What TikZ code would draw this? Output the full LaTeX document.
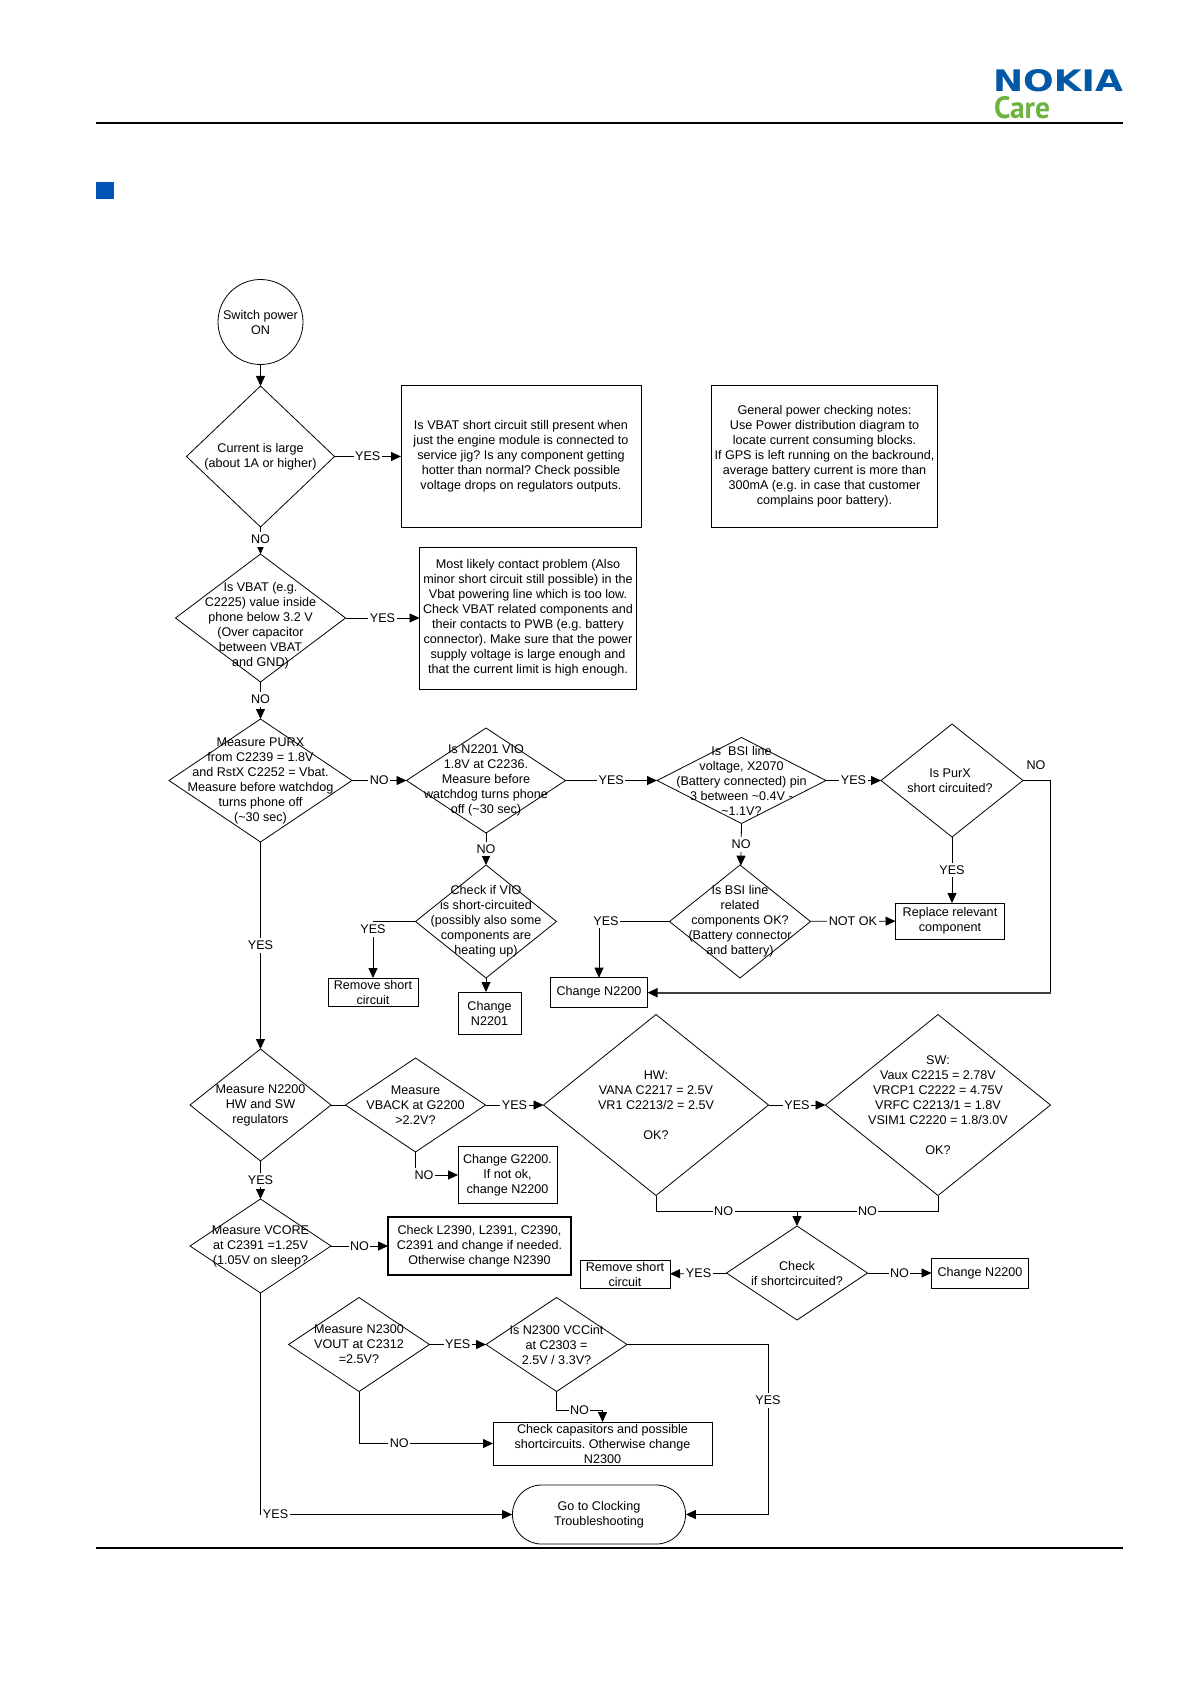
\documentclass[tikz,border=0pt]{standalone}
\usepackage{fontspec}
\setmainfont{Liberation Sans}
\newfontfamily\carefont{PT Sans}
\newfontfamily\nokiafont{DejaVu Sans}
\usepackage{xcolor}
\usetikzlibrary{shapes.geometric,positioning,calc,arrows.meta}
\definecolor{nokiablue}{HTML}{0058A6}
\definecolor{bulletblue}{HTML}{0054B4}
\definecolor{caregreen}{HTML}{6CB33F}
\tikzset{
    flowtxt/.style={align=center, inner sep=0pt, font=\fontsize{12.6}{15}\selectfont\frenchspacing},
    dia/.style={draw, diamond, inner sep=0pt, outer sep=0pt, line width=0.8pt},
    box/.style={draw, rectangle, flowtxt, outer sep=0pt, line width=0.9pt},
    lab/.style={flowtxt, fill=white, inner xsep=1.5pt, inner ysep=3pt},
    link/.style={line width=0.8pt},
    arr/.style={link, -{Triangle[length=10pt,width=9pt,color=black]}}
}

\begin{document}
\begin{tikzpicture}[x=1pt, y=-1pt]
    \useasboundingbox (0, 0) rectangle (1191, 1684);

    % page furniture
    \node[inner sep=0pt, text=nokiablue, font=\nokiafont\bfseries] (nokia) at (1058, 80.5) {\resizebox{130pt}{22pt}{NOKIA}};
    \node[inner sep=0pt, text=caregreen, font=\carefont\bfseries] (care) at (1022, 107.5) {\resizebox{56pt}{22pt}{Care}};
    \coordinate (headL) at (96, 123);
    \coordinate (headR) at (1123, 123);
    \coordinate (footL) at (96, 1548);
    \coordinate (footR) at (1123, 1548);
    \draw[line width=2pt] (headL) -- (headR);
    \draw[line width=2pt] (footL) -- (footR);
    \node[fill=bulletblue, inner sep=0pt, minimum width=18pt, minimum height=17pt] (bullet) at (105, 190.5) {};

    % first column
    \node[draw, circle, flowtxt, line width=0.8pt, minimum size=85pt] (start) at (260.5, 322) {Switch power\\ON};

    \node[dia, minimum width=148pt, minimum height=141pt] (current) at (260.5, 456.5) {};
    \node[flowtxt] (currentT) at (current) {Current is large\\(about 1A or higher)};
    \node[box, minimum width=240pt, minimum height=142pt] (vbatshort) at (521, 456) {Is VBAT short circuit still present when\\just the engine module is connected to\\service jig? Is any component getting\\hotter than normal? Check possible\\voltage drops on regulators outputs.};
    \node[box, minimum width=226pt, minimum height=142pt] (notes) at (824.5, 456) {General power checking notes:\\Use Power distribution diagram to\\locate current consuming blocks.\\If GPS is left running on the backround,\\average battery current is more than\\300mA (e.g. in case that customer\\complains poor battery).};

    \node[dia, minimum width=170pt, minimum height=128pt] (vbat) at (260.5, 618) {};
    \node[flowtxt] (vbatT) at (260.5, 625.5) {Is VBAT (e.g.\\C2225) value inside\\phone below 3.2 V\\(Over capacitor\\between VBAT\\and GND)};
    \node[box, minimum width=217pt, minimum height=142pt] (contact) at (528, 618) {Most likely contact problem (Also\\minor short circuit still possible) in the\\Vbat powering line which is too low.\\Check VBAT related components and\\their contacts to PWB (e.g. battery\\connector). Make sure that the power\\supply voltage is large enough and\\that the current limit is high enough.};

    \node[dia, minimum width=183pt, minimum height=123pt] (purx) at (260.5, 780.5) {};
    \node[flowtxt] (purxT) at (purx) {Measure PURX\\from C2239 = 1.8V\\and RstX C2252 = Vbat.\\Measure before watchdog\\turns phone off\\(\textasciitilde30 sec)};
    \node[dia, minimum width=159pt, minimum height=105pt] (vio) at (486, 780.5) {};
    \node[flowtxt] (vioT) at (vio) {Is N2201 VIO\\1.8V at C2236.\\Measure before\\watchdog turns phone\\off (\textasciitilde30 sec)};
    \node[dia, minimum width=169pt, minimum height=86pt] (bsi) at (741.5, 780.5) {};
    \node[flowtxt] (bsiT) at (bsi) {Is\ \ BSI line\\voltage, X2070\\(Battery connected) pin\\3 between \textasciitilde0.4V -\\\textasciitilde1.1V?};
    \node[dia, minimum width=142pt, minimum height=113pt] (purxsc) at (952, 780.5) {};
    \node[flowtxt] (purxscT) at (950, 780.5) {Is PurX\\short circuited?};

    \node[dia, minimum width=141pt, minimum height=113pt] (viosc) at (486, 921.5) {};
    \node[flowtxt] (vioscT) at (viosc) {Check if VIO\\is short-circuited\\(possibly also some\\components are\\heating up)};
    \node[dia, minimum width=141pt, minimum height=113pt] (bsiok) at (740, 921.5) {};
    \node[flowtxt] (bsiokT) at (bsiok) {Is BSI line\\related\\components OK?\\(Battery connector\\and battery)};
    \node[box, minimum width=109pt, minimum height=36pt] (replace) at (950, 921) {Replace relevant\\component};
    \node[box, minimum width=90pt, minimum height=28pt] (rmshortA) at (373, 992) {Remove short\\circuit};
    \node[box, minimum width=63pt, minimum height=42pt] (chgvio) at (489.5, 1013) {Change\\N2201};
    \node[box, minimum width=97pt, minimum height=30pt] (chgA) at (599, 992.7) {Change N2200};

    % regulators row
    \node[dia, minimum width=141pt, minimum height=112pt] (reg) at (260.5, 1105) {};
    \node[flowtxt] (regT) at (reg) {Measure N2200\\HW and SW\\regulators};
    \node[dia, minimum width=140pt, minimum height=94pt] (vback) at (415.5, 1105) {};
    \node[flowtxt] (vbackT) at (vback) {Measure\\VBACK at G2200\\>2.2V?};
    \node[box, minimum width=99pt, minimum height=57pt] (chgbat) at (507.5, 1175) {Change G2200.\\If not ok,\\change N2200};
    \node[dia, minimum width=225pt, minimum height=181pt] (hw) at (656, 1105) {};
    \node[flowtxt] (hwT) at (hw) {HW:\\VANA C2217 = 2.5V\\VR1 C2213/2 = 2.5V\\\\OK?};
    \node[dia, minimum width=225pt, minimum height=181pt] (sw) at (938, 1105) {};
    \node[flowtxt] (swT) at (sw) {SW:\\Vaux C2215 = 2.78V\\VRCP1 C2222 = 4.75V\\VRFC C2213/1 = 1.8V\\VSIM1 C2220 = 1.8/3.0V\\\\OK?};

    \node[dia, minimum width=141pt, minimum height=94pt] (vcore) at (260.5, 1246) {};
    \node[flowtxt] (vcoreT) at (vcore) {Measure VCORE\\at C2391 =1.25V\\(1.05V on sleep?};
    \node[box, line width=1.1pt, minimum width=183pt, minimum height=58pt] (chgvcore) at (479.5, 1246) {Check L2390, L2391, C2390,\\C2391 and change if needed.\\Otherwise change N2390};
    \node[dia, minimum width=141pt, minimum height=94pt] (chksc) at (797, 1273) {};
    \node[flowtxt] (chkscT) at (chksc) {Check\\if shortcircuited?};
    \node[box, minimum width=90pt, minimum height=28pt] (rmshortB) at (625, 1274) {Remove short\\circuit};
    \node[box, minimum width=97pt, minimum height=30pt] (chgB) at (980, 1273) {Change N2200};

    % N2300 branch
    \node[dia, minimum width=141pt, minimum height=94pt] (vout) at (359, 1344.5) {};
    \node[flowtxt] (voutT) at (vout) {Measure N2300\\VOUT at C2312\\=2.5V?};
    \node[dia, minimum width=141pt, minimum height=94pt] (vcc) at (556.5, 1344.5) {};
    \node[flowtxt] (vccT) at (vcc) {Is N2300 VCCint\\at C2303 =\\2.5V / 3.3V?};
    \node[box, minimum width=219pt, minimum height=43pt] (caps) at (602.5, 1443.5) {Check capasitors and possible\\shortcircuits. Otherwise change\\N2300};
    \node[draw, flowtxt, rectangle, rounded corners=29pt, line width=0.8pt, minimum width=173pt, minimum height=59pt] (clock) at (599, 1514.5) {Go to Clocking\\Troubleshooting};

    % free corners of the connectors
    \coordinate (nearN) at (1050.5, 780.5);
    \coordinate (nearS) at (1050.5, 992.7);
    \coordinate (vioL) at (373, 921.5);
    \coordinate (bsiL) at (599, 921.5);
    \coordinate (hwB) at (656, 1211);
    \coordinate (swB) at (938, 1211);
    \coordinate (mrg) at (797, 1211);
    \coordinate (vbackB) at (415.5, 1175);
    \coordinate (vccR) at (768, 1344.5);
    \coordinate (vccS) at (768, 1514.5);
    \coordinate (vccB) at (556.5, 1410);
    \coordinate (vccE) at (602.5, 1410);
    \coordinate (voutB) at (359, 1443.5);
    \coordinate (vcoreB) at (260.5, 1514.5);

    % connectors
    \draw[arr] (start) -- (current);
    \draw[arr] (current) -- node[lab] (y1) {YES} (current -| vbatshort.west);
    \draw[arr] (current) -- node[lab, pos=0.45] (n1) {NO} (vbat);
    \draw[arr] (vbat) -- node[lab] (y2) {YES} (contact);
    \draw[arr] (vbat) -- node[lab, pos=0.47] (n2) {NO} (purx);
    \draw[arr] (purx) -- node[lab] (n3) {NO} (vio);
    \draw[arr] (vio) -- node[lab] (y3) {YES} (bsi);
    \draw[arr] (bsi) -- node[lab] (y4) {YES} (purxsc);
    \draw[arr] (vio) -- node[lab] (n4) {NO} (viosc);
    \draw[arr] (bsi.south) -- node[lab] (n5) {NO} (bsiok);
    \draw[arr] (purxsc.south) -- node[lab] (y5) {YES} (replace.north -| purxsc.south);
    \draw[link] (purxsc) -- (nearN) -- (nearS);
    \draw[arr, line width=1.7pt, black!75] (nearS) -- (chgA);
    \node[flowtxt] (n6) at (1036, 765.5) {NO};
    \draw[arr] (viosc) -- (vioL) -- node[lab, pos=0.14] (y6) {YES} (rmshortA);
    \draw[arr] (viosc.south) -- (chgvio.north -| viosc.south);
    \draw[arr] (bsiok) -- (bsiL) -- (chgA);
    \node[lab] (y7) at (606, 921) {YES};
    \draw[arr] (bsiok) -- node[lab] (n7) {NOT OK} (replace);
    \draw[arr] (purx) -- node[lab] (y8) {YES} (reg);

    \draw[link] (reg) -- (vback);
    \draw[arr] (vback) -- node[lab] (y9) {YES} (hw);
    \draw[arr] (hw) -- node[lab] (y10) {YES} (sw);
    \draw[arr] (vback) -- (vbackB) -- node[lab, pos=0.2] (n8) {NO} (chgbat);
    \draw[arr] (reg) -- node[lab] (y11) {YES} (vcore);
    \draw[link] (hw) -- (hwB) -- node[lab, pos=0.48] (n9) {NO} (mrg) -- node[lab, pos=0.5] (n10) {NO} (swB) -- (sw);
    \draw[arr] (mrg) -- (chksc);
    \draw[arr] (vcore) -- node[lab] (n11) {NO} (chgvcore);
    \draw[arr] (chksc) -- node[lab] (y12) {YES} (rmshortB);
    \draw[arr] (chksc) -- node[lab] (n12) {NO} (chgB);

    \draw[arr] (vout) -- node[lab] (y13) {YES} (vcc);
    \draw[arr] (vcc) -- (vccR) -- node[lab, pos=0.33] (y14) {YES} (vccS) -- (clock);
    \draw[arr] (vcc) -- (vccB) -- node[lab] (n13) {NO} (vccE) -- (caps);
    \draw[arr] (vout) -- (voutB) -- node[lab, pos=0.3] (n14) {NO} (caps);
    \draw[arr] (vcore) -- (vcoreB) -- node[lab, pos=0.06] (y15) {YES} (clock);
\end{tikzpicture}
\end{document}
